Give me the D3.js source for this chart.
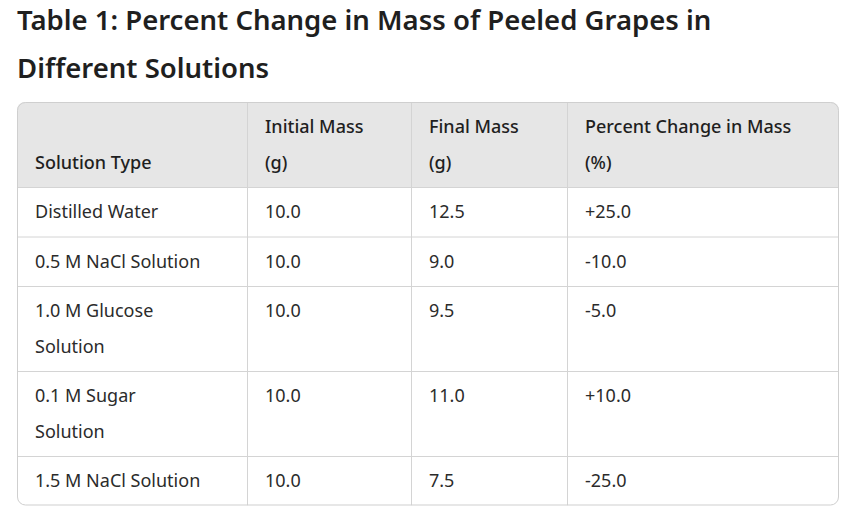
<!DOCTYPE html>
<html><head><meta charset="utf-8">
<script src="https://cdn.jsdelivr.net/npm/d3@7"></script>
<style>body{margin:0;background:#fff;font-family:"Noto Sans",sans-serif;}</style>
</head><body><div id="chart"></div>
<script>
var titleLines = ['Table 1: Percent Change in Mass of Peeled Grapes in', 'Different Solutions'];
var solutions = ['Distilled Water', '0.5 M NaCl Solution', '1.0 M Glucose Solution', '0.1 M Sugar Solution', '1.5 M NaCl Solution'];
var initialMass = ['10.0', '10.0', '10.0', '10.0', '10.0'];
var finalMass = ['12.5', '9.0', '9.5', '11.0', '7.5'];
var pctChange = ['+25.0', '-10.0', '-5.0', '+10.0', '-25.0'];
// header text, wrapped as seen in the picture
var headerLines = [['Solution Type'], ['Initial Mass', '(g)'], ['Final Mass', '(g)'], ['Percent Change in Mass', '(%)']];
var solutionLines = [['Distilled Water'], ['0.5 M NaCl Solution'], ['1.0 M Glucose', 'Solution'],
  ['0.1 M Sugar', 'Solution'], ['1.5 M NaCl Solution']];

var W = 848, H = 521;
var tLeft = 17, tRight = 839, tTop = 102;
var colEdges = [17, 247, 411, 567, 839];
var lineH = 35.5, pad = 18;

var svg = d3.select('#chart').append('svg').attr('width', W).attr('height', H);

svg.selectAll('.title').data(titleLines).enter().append('text')
  .attr('x', 17).attr('y', (d, i) => 30 + i * 48)
  .attr('font-size', '27.5px').attr('font-weight', 600).attr('fill', '#1f1f1f')
  .text(d => d);

// build rows
var rows = [{ cells: headerLines, header: true }];
solutions.forEach(function (s, i) {
  rows.push({ cells: [solutionLines[i], [initialMass[i]], [finalMass[i]], [pctChange[i]]], header: false });
});
var y = tTop;
rows.forEach(function (r) {
  var n = d3.max(r.cells, c => c.length);
  r.y = y; r.n = n; r.h = 14 + n * lineH;
  y += r.h;
});
var tBottom = y;

svg.append('defs').append('clipPath').attr('id', 'clip')
  .append('rect').attr('x', tLeft).attr('y', tTop).attr('width', tRight - tLeft).attr('height', tBottom - tTop).attr('rx', 8);

var g = svg.append('g').attr('clip-path', 'url(#clip)');
g.append('rect').attr('x', tLeft).attr('y', tTop).attr('width', tRight - tLeft).attr('height', rows[0].h).attr('fill', '#e6e6e6');

g.selectAll('.hl').data(rows.slice(1)).enter().append('line')
  .attr('x1', tLeft).attr('x2', tRight).attr('y1', d => d.y + 0.5).attr('y2', d => d.y + 0.5)
  .attr('stroke', '#d4d4d4');
g.selectAll('.vl').data(colEdges.slice(1, -1)).enter().append('line')
  .attr('x1', d => d + 0.5).attr('x2', d => d + 0.5).attr('y1', tTop).attr('y2', tBottom)
  .attr('stroke', '#d4d4d4');

svg.append('rect').attr('x', tLeft + 0.5).attr('y', tTop + 0.5).attr('width', tRight - tLeft - 1).attr('height', tBottom - tTop - 1)
  .attr('rx', 8).attr('fill', 'none').attr('stroke', '#cfcfcf');

rows.forEach(function (r) {
  r.cells.forEach(function (lines, ci) {
    var offset = r.header ? r.n - lines.length : 0;
    lines.forEach(function (t, li) {
      svg.append('text')
        .attr('x', colEdges[ci] + pad)
        .attr('y', r.y + 7 + (li + offset) * lineH + lineH / 2)
        .attr('dy', '0.35em')
        .attr('font-size', '18px')
        .attr('font-weight', r.header ? 500 : 400)
        .attr('fill', r.header ? '#1f1f1f' : '#2b2b2b')
        .text(t);
    });
  });
});
</script></body></html>
